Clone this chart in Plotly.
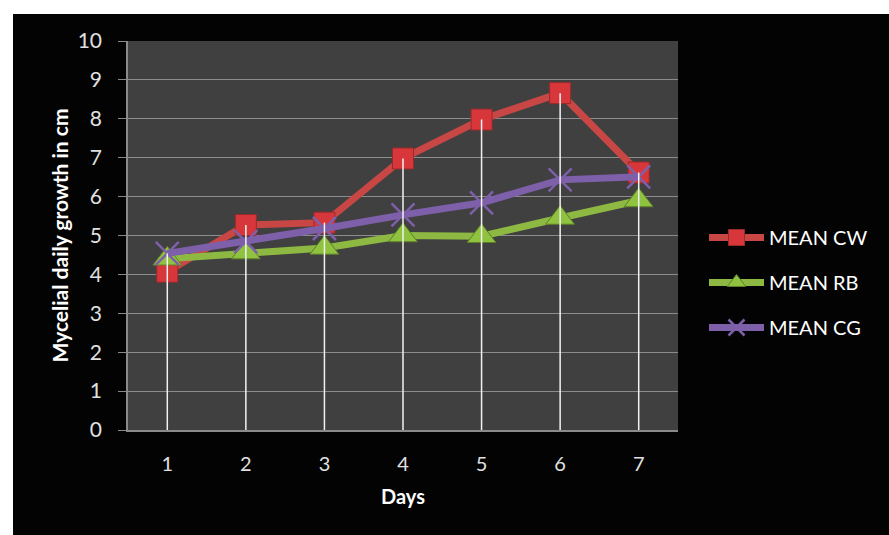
import plotly.graph_objects as go

days = [1, 2, 3, 4, 5, 6, 7]
mean_cw = [4.07, 5.27, 5.33, 6.98, 7.98, 8.66, 6.62]
mean_rb = [4.40, 4.56, 4.68, 5.00, 4.98, 5.45, 5.90]
mean_cg = [4.54, 4.84, 5.18, 5.53, 5.84, 6.43, 6.51]
y_ticks = [0, 1, 2, 3, 4, 5, 6, 7, 8, 9, 10]

W, H = 889, 535
L, R, T, B = 128, 211, 41, 105
pw, ph = W - L - R, H - T - B

def px(xp):
    return (xp - L) / pw

def py(yp):
    return (H - B - yp) / ph

font = "Lato, 'Open Sans', sans-serif"

fig = go.Figure()

series = [
    ("MEAN CW", mean_cw, "#C84745", "#D7373B", "#9A2A2A", "square", 21),
    ("MEAN RB", mean_rb, "#8DB943", "#8FC23E", "#5E7E2A", "triangle-up", 25),
    ("MEAN CG", mean_cg, "#7E5FA9", "#7E5FA9", "#7E5FA9", "x-thin", 23),
]
for i, (name, vals, lc, mc, ec, sym, ms) in enumerate(series):
    mk = dict(symbol=sym, size=ms, color=mc, line=dict(color=ec, width=1))
    if sym == "x-thin":
        mk = dict(symbol=sym, size=ms, color=mc, line=dict(color=mc, width=2.5))
    fig.add_trace(go.Scatter(
        x=days, y=vals, name=name, mode="lines+markers",
        line=dict(color=lc, width=7), marker=mk,
        legendgroup=name,
    ))

# drop lines from the highest point of each day down to the axis
drop_x, drop_y = [], []
for d, a, b, c in zip(days, mean_cw, mean_rb, mean_cg):
    drop_x += [d, d, None]
    drop_y += [0, max(a, b, c), None]
fig.add_trace(go.Scatter(
    x=drop_x, y=drop_y, mode="lines", showlegend=False, hoverinfo="skip",
    line=dict(color="#F2F2F2", width=1.5),
))

fig.update_layout(
    width=W, height=H,
    margin=dict(l=L, r=R, t=T, b=B),
    paper_bgcolor="white",
    plot_bgcolor="rgba(0,0,0,0)",
    font=dict(family=font, color="#D9D9D9"),
    showlegend=True,
    legend=dict(
        x=px(704), y=py(218), xanchor="left", yanchor="top",
        bgcolor="rgba(0,0,0,0)", font=dict(size=20, color="#FFFFFF", family=font),
        traceorder="grouped", tracegroupgap=16, itemwidth=55,
    ),
    shapes=[
        dict(type="rect", xref="paper", yref="paper",
             x0=px(13), x1=px(W + 5), y0=py(H + 5), y1=py(14),
             fillcolor="#030303", line=dict(width=0), layer="below"),
        dict(type="rect", xref="paper", yref="paper",
             x0=0, x1=1, y0=0, y1=1,
             fillcolor="#404040", line=dict(width=0), layer="below"),
    ],
)

fig.update_xaxes(
    range=[0.5, 7.5], tickvals=days, ticktext=[str(d) for d in days],
    showgrid=False, zeroline=False,
    showline=True, linecolor="#8A8A8A", linewidth=1.5,
    ticks="", tickfont=dict(size=20, color="#E0E0E0"),
    ticklabelstandoff=15,
    title=dict(text="<b>Days</b>", font=dict(size=20, color="#FFFFFF"), standoff=16),
)
fig.update_yaxes(
    range=[0, 10], tickvals=y_ticks,
    showgrid=True, gridcolor="#8C8C8C", gridwidth=1.2, zeroline=False,
    showline=True, linecolor="#8A8A8A", linewidth=1.5,
    ticks="outside", ticklen=8, tickcolor="#8A8A8A",
    tickfont=dict(size=21, color="#E0E0E0"),
    ticklabelstandoff=12,
    title=dict(text="<b>Mycelial daily growth in cm</b>", font=dict(size=21, color="#FFFFFF"), standoff=3),
)

fig.write_html("out.html")
